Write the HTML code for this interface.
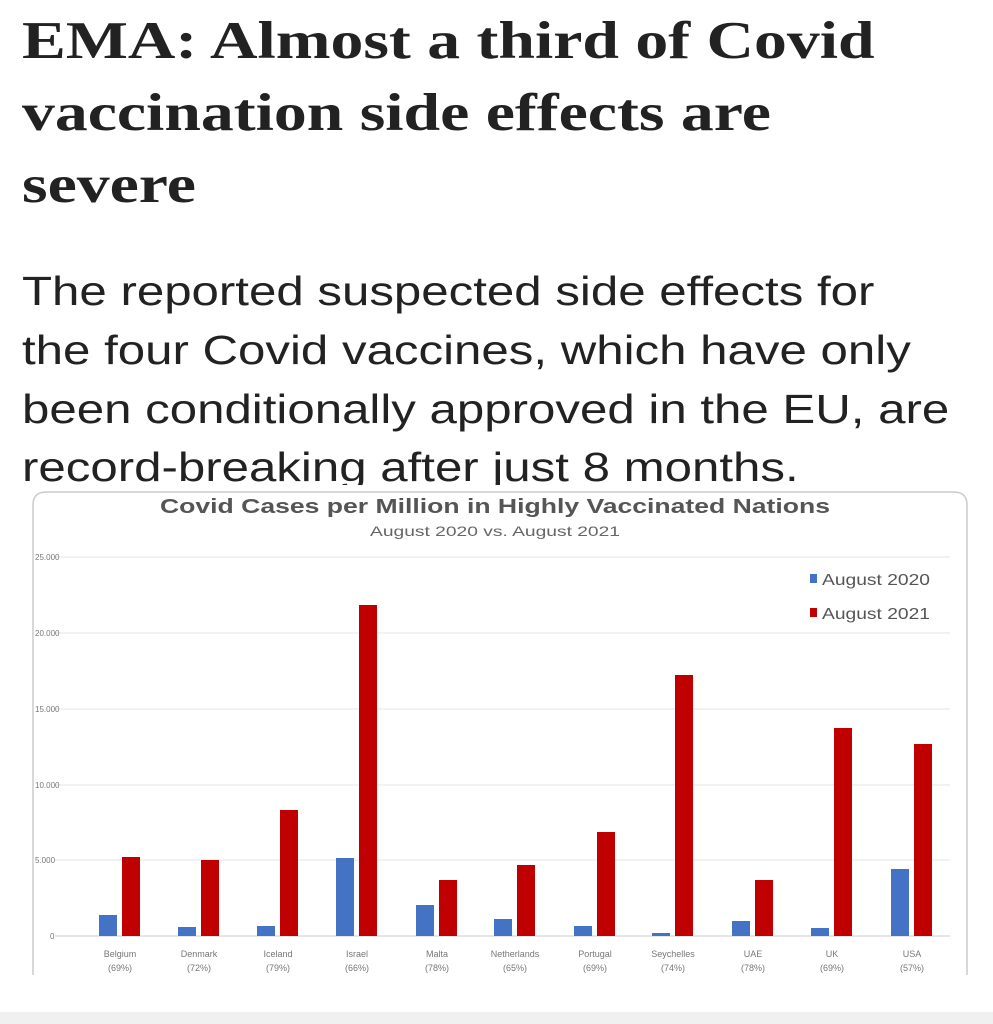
<!DOCTYPE html>
<html><head><meta charset="utf-8"><style>
body{margin:0;width:993px;height:1024px;background:#fff;position:relative;overflow:hidden}
.h{position:absolute;left:22px;font-family:"Liberation Serif",serif;font-weight:bold;font-size:53px;color:#222;white-space:nowrap;transform-origin:0 0;transform:scaleX(1.24)}
.s{position:absolute;left:22px;font-family:"Liberation Sans",sans-serif;font-size:41px;color:#222;white-space:nowrap;transform-origin:0 0;transform:scaleX(1.2)}
</style></head><body>
<div class="h" style="top:11px">EMA: Almost a third of Covid</div>
<div class="h" style="top:83px">vaccination side effects are</div>
<div class="h" style="top:155px">severe</div>
<div class="s" style="top:268px">The reported suspected side effects for</div>
<div class="s" style="top:327px">the four Covid vaccines, which have only</div>
<div class="s" style="top:386px">been conditionally approved in the EU, are</div>
<div style="position:absolute;left:0;top:0;width:993px;height:485px;overflow:hidden"><div class="s" style="top:444px">record-breaking after just 8 months.</div></div>
<svg style="position:absolute;left:0;top:0" width="993" height="1024" font-family="Liberation Sans,sans-serif">
<rect x="0" y="485" width="993" height="539" fill="#fff"/>
<path d="M33 975 V505 Q33 492 46 492 H954 Q967 492 967 505 V975" fill="none" stroke="#ccc" stroke-width="1.5"/>
<rect x="0" y="1012" width="993" height="12" fill="#f0f0f0"/>
<text x="160" y="513" textLength="670" lengthAdjust="spacingAndGlyphs" font-size="20" font-weight="bold" fill="#555">Covid Cases per Million in Highly Vaccinated Nations</text>
<text x="370" y="536" textLength="250" lengthAdjust="spacingAndGlyphs" font-size="14" fill="#666">August 2020 vs. August 2021</text>
<g stroke="#e6e6e6" stroke-width="1">
<line x1="55" y1="557" x2="950" y2="557"/><line x1="55" y1="633" x2="950" y2="633"/><line x1="55" y1="709" x2="950" y2="709"/><line x1="55" y1="785" x2="950" y2="785"/><line x1="55" y1="860" x2="950" y2="860"/></g>
<line x1="55" y1="936" x2="950" y2="936" stroke="#ccc"/>
<g font-size="8" fill="#777"><text x="35" y="560">25.000</text><text x="35" y="636">20.000</text><text x="35" y="712">15.000</text><text x="35" y="788">10.000</text><text x="35" y="863">5.000</text><text x="50" y="939">0</text></g>
<rect x="810" y="574" width="7" height="9" fill="#4472c4"/><text x="822" y="585" font-size="16" textLength="108" lengthAdjust="spacingAndGlyphs" fill="#555">August 2020</text>
<rect x="810" y="608" width="7" height="9" fill="#c00000"/><text x="822" y="619" font-size="16" textLength="108" lengthAdjust="spacingAndGlyphs" fill="#555">August 2021</text>
<g fill="#4472c4">
<rect x="99" y="915" width="18" height="21"/><rect x="178" y="927" width="18" height="9"/><rect x="257" y="926" width="18" height="10"/><rect x="336" y="858" width="18" height="78"/><rect x="416" y="905" width="18" height="31"/><rect x="494" y="919" width="18" height="17"/><rect x="574" y="926" width="18" height="10"/><rect x="652" y="933" width="18" height="3"/><rect x="732" y="921" width="18" height="15"/><rect x="811" y="928" width="18" height="8"/><rect x="891" y="869" width="18" height="67"/></g>
<g fill="#c00000">
<rect x="122" y="857" width="18" height="79"/><rect x="201" y="860" width="18" height="76"/><rect x="280" y="810" width="18" height="126"/><rect x="359" y="605" width="18" height="331"/><rect x="439" y="880" width="18" height="56"/><rect x="517" y="865" width="18" height="71"/><rect x="597" y="832" width="18" height="104"/><rect x="675" y="675" width="18" height="261"/><rect x="755" y="880" width="18" height="56"/><rect x="834" y="728" width="18" height="208"/><rect x="914" y="744" width="18" height="192"/></g>
<g font-size="9" fill="#777" text-anchor="middle">
<text x="120" y="957">Belgium</text><text x="120" y="971">(69%)</text>
<text x="199" y="957">Denmark</text><text x="199" y="971">(72%)</text>
<text x="278" y="957">Iceland</text><text x="278" y="971">(79%)</text>
<text x="357" y="957">Israel</text><text x="357" y="971">(66%)</text>
<text x="437" y="957">Malta</text><text x="437" y="971">(78%)</text>
<text x="515" y="957">Netherlands</text><text x="515" y="971">(65%)</text>
<text x="595" y="957">Portugal</text><text x="595" y="971">(69%)</text>
<text x="673" y="957">Seychelles</text><text x="673" y="971">(74%)</text>
<text x="753" y="957">UAE</text><text x="753" y="971">(78%)</text>
<text x="832" y="957">UK</text><text x="832" y="971">(69%)</text>
<text x="912" y="957">USA</text><text x="912" y="971">(57%)</text>
</g></svg>
</body></html>
